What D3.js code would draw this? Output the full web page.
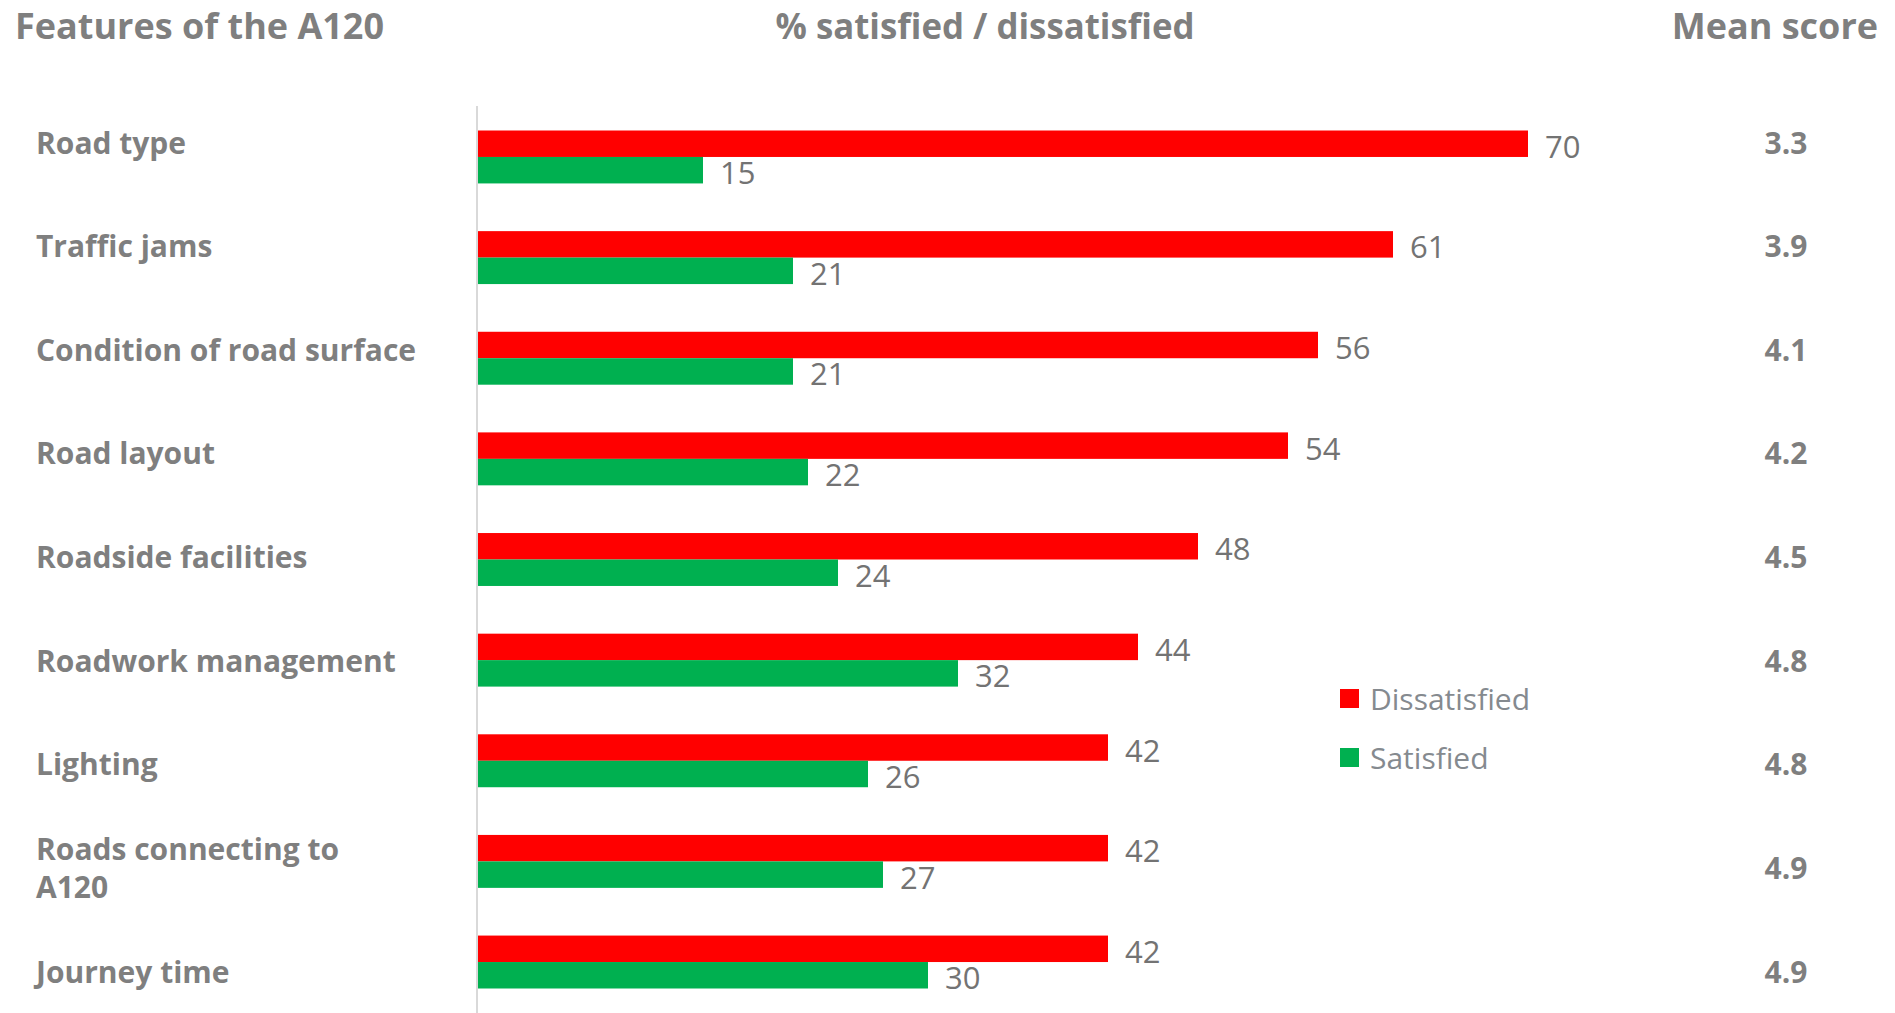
<!DOCTYPE html>
<html>
<head>
<meta charset="utf-8">
<script src="https://cdn.jsdelivr.net/npm/d3@7"></script>
<style>
  html, body { margin: 0; padding: 0; background: #ffffff; }
  svg { display: block; font-family: "Open Sans", "Noto Sans", sans-serif; }
</style>
</head>
<body>
<svg id="chart" width="1895" height="1013"></svg>
<script>
// ---- data ----
const categories = [
  "Road type",
  "Traffic jams",
  "Condition of road surface",
  "Road layout",
  "Roadside facilities",
  "Roadwork management",
  "Lighting",
  "Roads connecting to A120",
  "Journey time"
];
const categoryLines = [
  ["Road type"],
  ["Traffic jams"],
  ["Condition of road surface"],
  ["Road layout"],
  ["Roadside facilities"],
  ["Roadwork management"],
  ["Lighting"],
  ["Roads connecting to", "A120"],
  ["Journey time"]
];
const dissatisfied = [70, 61, 56, 54, 48, 44, 42, 42, 42];
const satisfied    = [15, 21, 21, 22, 24, 32, 26, 27, 30];
const meanScores   = ["3.3", "3.9", "4.1", "4.2", "4.5", "4.8", "4.8", "4.9", "4.9"];
const seriesNames  = ["Dissatisfied", "Satisfied"];
const seriesColors = ["#ff0000", "#00b050"];
const headers = ["Features of the A120", "% satisfied / dissatisfied", "Mean score"];

// ---- layout ----
const svg = d3.select("#chart");
const x = d3.scaleLinear().domain([0, 70]).range([478, 1528]);
const y = d3.scaleBand().domain(categories).range([130.5, 988.5]).paddingInner(0.474).paddingOuter(0);
const ySub = d3.scaleBand().domain(seriesNames).range([0, y.bandwidth()]);
const yText = d3.scalePoint().domain(categories).range([142.6, 971.6]);
const color = d3.scaleOrdinal().domain(seriesNames).range(seriesColors);

const rows = categories.map((c, i) => ({
  cat: c, lines: categoryLines[i], mean: meanScores[i],
  vals: [
    { s: "Dissatisfied", v: dissatisfied[i] },
    { s: "Satisfied", v: satisfied[i] }
  ]
}));

// headers
const headerGray = "#7f7f7f";
svg.append("text").attr("x", 15).attr("y", 39)
  .attr("font-size", 36).attr("font-weight", 700).attr("fill", headerGray)
  .text(headers[0]);
svg.append("text").attr("x", 985).attr("y", 39).attr("text-anchor", "middle")
  .attr("font-size", 36).attr("font-weight", 700).attr("fill", headerGray)
  .attr("textLength", 419).attr("lengthAdjust", "spacingAndGlyphs")
  .text(headers[1]);
svg.append("text").attr("x", 1878).attr("y", 39).attr("text-anchor", "end")
  .attr("font-size", 36).attr("font-weight", 700).attr("fill", headerGray)
  .text(headers[2]);

// axis line
svg.append("line")
  .attr("x1", x(0) - 1).attr("x2", x(0) - 1)
  .attr("y1", 106).attr("y2", 1013)
  .attr("stroke", "#d9d9d9").attr("stroke-width", 2);

// category labels
const lab = svg.append("g").selectAll("text").data(rows).join("text")
  .attr("x", 36)
  .attr("font-size", 30).attr("font-weight", 700).attr("fill", headerGray);
lab.each(function(d) {
  const n = d.lines.length;
  const lh = 37.5;
  const y0 = yText(d.cat) - (n - 1) * lh / 2 + 11;
  d3.select(this).selectAll("tspan").data(d.lines).join("tspan")
    .attr("x", 36).attr("y", (t, j) => y0 + j * lh).text(t => t);
});

// mean scores
svg.append("g").selectAll("text").data(rows).join("text")
  .attr("x", 1786).attr("y", d => yText(d.cat) + 11)
  .attr("text-anchor", "middle")
  .attr("font-size", 30).attr("font-weight", 700).attr("fill", headerGray)
  .text(d => d.mean);

// bars
const groups = svg.append("g").selectAll("g").data(rows).join("g")
  .attr("transform", d => `translate(0,${y(d.cat)})`);
groups.selectAll("rect").data(d => d.vals).join("rect")
  .attr("x", x(0))
  .attr("y", d => ySub(d.s))
  .attr("width", d => x(d.v) - x(0))
  .attr("height", ySub.bandwidth())
  .attr("fill", d => color(d.s));
groups.selectAll("text").data(d => d.vals).join("text")
  .attr("x", d => x(d.v) + 17)
  .attr("y", d => ySub(d.s) + ySub.bandwidth() / 2 + 14)
  .attr("font-size", 31).attr("fill", "#737373")
  .text(d => d.v);

// legend
const leg = svg.append("g").selectAll("g").data(seriesNames).join("g")
  .attr("transform", (d, i) => `translate(1340,${689 + i * 59})`);
leg.append("rect").attr("width", 19).attr("height", 19).attr("fill", d => color(d));
leg.append("text").attr("x", 30).attr("y", 21)
  .attr("font-size", 30).attr("fill", "#858a8f")
  .text(d => d);
</script>
</body>
</html>
